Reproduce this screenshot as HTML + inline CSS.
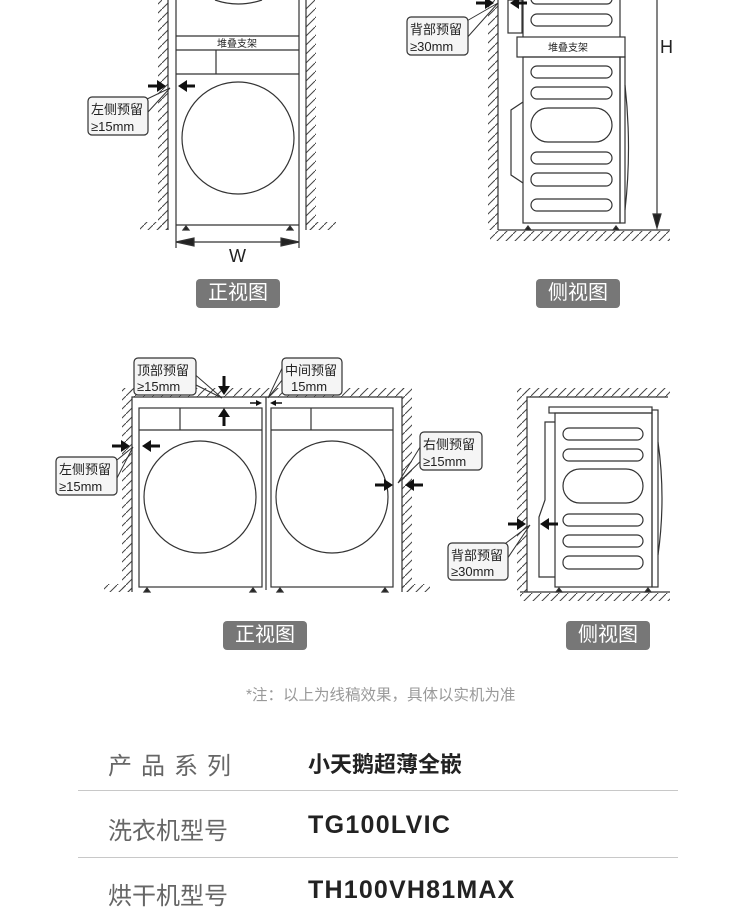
<!DOCTYPE html>
<html><head><meta charset="utf-8"><style>
body{margin:0;background:#fff;width:750px;height:902px;overflow:hidden;position:relative;font-family:"Liberation Sans","Noto Sans CJK SC",sans-serif}
svg{position:absolute;left:0;top:0}
.btn{position:absolute;background:#777;color:#fff;border-radius:4px;font-size:20px;text-align:center;line-height:29px;width:84px;height:29px}
.t{position:absolute;white-space:nowrap}
.hr{position:absolute;left:78px;width:600px;height:1px;background:#c8c8c8}
</style></head><body>
<svg width="750" height="902" viewBox="0 0 750 902">
<defs>
<pattern id="h" width="9" height="9" patternUnits="userSpaceOnUse">
<line x1="0" y1="9" x2="9" y2="0" stroke="#444" stroke-width="1"/>
</pattern>
</defs>
<g fill="none" stroke="#333" stroke-width="1.2">
<!-- TOP LEFT -->
<rect x="158" y="0" width="10" height="230" fill="url(#h)" stroke="none"/>
<rect x="140" y="222" width="28" height="8" fill="url(#h)" stroke="none"/>
<rect x="306" y="0" width="10" height="230" fill="url(#h)" stroke="none"/>
<rect x="306" y="222" width="30" height="8" fill="url(#h)" stroke="none"/>
<line x1="168" y1="0" x2="168" y2="230"/><line x1="306" y1="0" x2="306" y2="230"/>
<line x1="176" y1="0" x2="176" y2="248"/><line x1="299" y1="0" x2="299" y2="248"/>
<path d="M215,0 Q238,8 262,0"/>
<line x1="176" y1="36" x2="299" y2="36"/><line x1="176" y1="50" x2="299" y2="50"/>
<line x1="216" y1="50" x2="216" y2="74"/><line x1="176" y1="74" x2="299" y2="74"/>
<circle cx="238" cy="138" r="56"/>
<line x1="176" y1="225" x2="299" y2="225"/>
<line x1="176" y1="242" x2="299" y2="242"/>
<path d="M176,242 l18,-4 v8z M299,242 l-18,-4 v8z" fill="#222"/>
<path d="M183,230 l3,-4 l3,4z M287,230 l3,-4 l3,4z" fill="#222"/>
<!-- TOP RIGHT -->
<rect x="488" y="0" width="10" height="230" fill="url(#h)" stroke="none"/>
<rect x="490" y="231" width="180" height="10" fill="url(#h)" stroke="none"/>
<line x1="498" y1="0" x2="498" y2="230"/><line x1="498" y1="230" x2="670" y2="230"/>
<rect x="508" y="0" width="14" height="33"/>
<line x1="523" y1="0" x2="523" y2="37"/><line x1="620" y1="0" x2="620" y2="37"/>
<rect x="531" y="-6" width="81" height="10" rx="5"/>
<rect x="531" y="14" width="81" height="12" rx="6"/>
<rect x="517" y="37" width="108" height="20"/>
<rect x="523" y="57" width="97" height="166"/>
<rect x="620" y="57" width="5" height="166"/>
<path d="M625,85 Q632,148 625,210"/>
<path d="M523,102 L511,110 L511,175 L523,183"/>
<rect x="531" y="66" width="81" height="12" rx="6"/>
<rect x="531" y="87" width="81" height="12" rx="6"/>
<rect x="531" y="108" width="81" height="34" rx="17"/>
<rect x="531" y="152" width="81" height="12" rx="6"/>
<rect x="531" y="173" width="81" height="13" rx="6"/>
<rect x="531" y="199" width="81" height="12" rx="6"/>
<path d="M525,230 l3,-4 l3,4z M613,230 l3,-4 l3,4z" fill="#222"/>
<line x1="657" y1="0" x2="657" y2="215"/>
<path d="M657,228 l-4,-14 h8z" fill="#222"/>
<!-- MID LEFT -->
<rect x="122" y="388" width="10" height="204" fill="url(#h)" stroke="none"/>
<rect x="104" y="584" width="28" height="8" fill="url(#h)" stroke="none"/>
<rect x="130" y="388" width="274" height="9" fill="url(#h)" stroke="none"/>
<rect x="402" y="388" width="10" height="204" fill="url(#h)" stroke="none"/>
<rect x="402" y="584" width="28" height="8" fill="url(#h)" stroke="none"/>
<path d="M132,592 V397 H402 V592"/>
<rect x="139" y="408" width="123" height="179"/>
<line x1="139" y1="430" x2="262" y2="430"/><line x1="180" y1="408" x2="180" y2="430"/>
<circle cx="200" cy="497" r="56"/>
<line x1="266" y1="397" x2="266" y2="590"/>
<rect x="271" y="408" width="122" height="179"/>
<line x1="271" y1="430" x2="393" y2="430"/><line x1="311" y1="408" x2="311" y2="430"/>
<circle cx="332" cy="497" r="56"/>
<path d="M144,592 l3,-4 l3,4z M250,592 l3,-4 l3,4z M277,592 l3,-4 l3,4z M382,592 l3,-4 l3,4z" fill="#222"/>
<!-- MID RIGHT -->
<rect x="517" y="388" width="10" height="204" fill="url(#h)" stroke="none"/>
<rect x="525" y="388" width="145" height="9" fill="url(#h)" stroke="none"/>
<rect x="520" y="593" width="150" height="8" fill="url(#h)" stroke="none"/>
<path d="M527,592 V397 H668 M520,592 H670"/>
<rect x="549" y="407" width="103" height="6"/>
<rect x="555" y="413" width="97" height="174"/>
<rect x="652" y="410" width="6" height="177"/>
<path d="M658,442 Q666,498 658,555"/>
<path d="M555,422 H545 V500 L539,517 V577 H555"/>
<rect x="563" y="428" width="80" height="12" rx="6"/>
<rect x="563" y="449" width="80" height="12" rx="6"/>
<rect x="563" y="469" width="80" height="34" rx="17"/>
<rect x="563" y="514" width="80" height="12" rx="6"/>
<rect x="563" y="535" width="80" height="12" rx="6"/>
<rect x="563" y="556" width="80" height="13" rx="6"/>
<path d="M556,592 l3,-4 l3,4z M645,592 l3,-4 l3,4z" fill="#222"/>
</g>
<g stroke="#111" stroke-width="3" fill="#111">
<line x1="148" y1="86" x2="158" y2="86"/><path d="M166,86 l-9,-6 v12z" stroke="none"/>
<line x1="195" y1="86" x2="186" y2="86"/><path d="M178,86 l9,-6 v12z" stroke="none"/>
<line x1="476" y1="3" x2="486" y2="3"/><path d="M494,3 l-9,-6 v12z" stroke="none"/>
<line x1="527" y1="3" x2="518" y2="3"/><path d="M510,3 l9,-6 v12z" stroke="none"/>
<line x1="224" y1="376" x2="224" y2="386"/><path d="M224,395 l-6,-9 h12z" stroke="none"/>
<line x1="224" y1="426" x2="224" y2="416"/><path d="M224,408 l-6,9 h12z" stroke="none"/>
<line x1="112" y1="446" x2="122" y2="446"/><path d="M130,446 l-9,-6 v12z" stroke="none"/>
<line x1="160" y1="446" x2="150" y2="446"/><path d="M142,446 l9,-6 v12z" stroke="none"/>
<line x1="375" y1="485" x2="385" y2="485"/><path d="M393,485 l-9,-6 v12z" stroke="none"/>
<line x1="423" y1="485" x2="413" y2="485"/><path d="M405,485 l9,-6 v12z" stroke="none"/>
<line x1="508" y1="524" x2="518" y2="524"/><path d="M526,524 l-9,-6 v12z" stroke="none"/>
<line x1="558" y1="524" x2="548" y2="524"/><path d="M540,524 l9,-6 v12z" stroke="none"/>
</g>
<g stroke="#111" stroke-width="1.5" fill="#111">
<line x1="250" y1="403" x2="256" y2="403"/><path d="M262,403 l-6,-3 v6z" stroke="none"/>
<line x1="282" y1="403" x2="276" y2="403"/><path d="M270,403 l6,-3 v6z" stroke="none"/>
</g>
<g stroke="#333" stroke-width="1" fill="none">
<path d="M145,100 L170,88 L148,112"/>
<path d="M465,22 L498,3 L465,40"/>
<path d="M192,372 L222,398 L196,385"/>
<path d="M290,370 L268,398 L285,362"/>
<path d="M112,464 L133,447 L117,478"/>
<path d="M422,444 L398,483 L426,456"/>
<path d="M502,546 L530,525 L505,562"/>
</g>
<g fill="#f5f5f5" stroke="#333" stroke-width="1.2">
<rect x="88" y="97" width="60" height="38" rx="4"/>
<rect x="407" y="17" width="61" height="38" rx="4"/>
<rect x="134" y="358" width="62" height="37" rx="4"/>
<rect x="282" y="358" width="60" height="37" rx="4"/>
<rect x="56" y="457" width="61" height="38" rx="4"/>
<rect x="420" y="432" width="62" height="38" rx="4"/>
<rect x="448" y="543" width="60" height="37" rx="4"/>
</g>
<g font-family="Liberation Sans,Noto Sans CJK SC,sans-serif" font-size="13" fill="#222">
<text x="91" y="114">左侧预留</text><text x="91" y="131">≥15mm</text>
<text x="410" y="34">背部预留</text><text x="410" y="51">≥30mm</text>
<text x="137" y="375">顶部预留</text><text x="137" y="391">≥15mm</text>
<text x="285" y="375">中间预留</text><text x="291" y="391">15mm</text>
<text x="59" y="474">左侧预留</text><text x="59" y="491">≥15mm</text>
<text x="423" y="449">右侧预留</text><text x="423" y="466">≥15mm</text>
<text x="451" y="560">背部预留</text><text x="451" y="576">≥30mm</text>
<text x="217" y="47" font-size="10">堆叠支架</text>
<text x="548" y="51" font-size="10">堆叠支架</text>
<text x="229" y="262" font-size="18">W</text>
<text x="660" y="53" font-size="18">H</text>
</g>
</svg>
<div class="btn" style="left:196px;top:279px">正视图</div>
<div class="btn" style="left:536px;top:279px">侧视图</div>
<div class="btn" style="left:223px;top:621px">正视图</div>
<div class="btn" style="left:566px;top:621px">侧视图</div>
<div class="t" style="left:246px;top:683px;font-size:15.5px;color:#999">*注：以上为线稿效果，具体以实机为准</div>
<div class="t" style="left:108px;top:746px;font-size:24px;color:#666;letter-spacing:9px">产品系列</div>
<div class="t" style="left:308px;top:747px;font-size:22px;color:#222;font-weight:bold">小天鹅超薄全嵌</div>
<div class="hr" style="top:790px"></div>
<div class="t" style="left:108px;top:811px;font-size:24px;color:#666">洗衣机型号</div>
<div class="t" style="left:308px;top:811px;font-size:25px;color:#222;font-weight:bold;letter-spacing:1.3px">TG100LVIC</div>
<div class="hr" style="top:857px"></div>
<div class="t" style="left:108px;top:876px;font-size:24px;color:#666">烘干机型号</div>
<div class="t" style="left:308px;top:876px;font-size:25px;color:#222;font-weight:bold;letter-spacing:1.2px">TH100VH81MAX</div>
</body></html>
